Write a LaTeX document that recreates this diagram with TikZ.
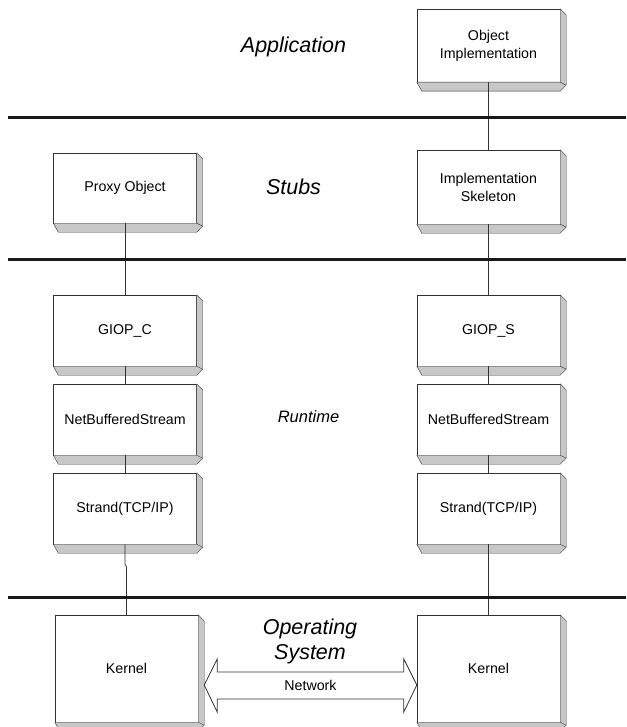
\documentclass[tikz,border=0pt]{standalone}
\usepackage{fontspec}
\setmainfont{Liberation Sans}
\usetikzlibrary{calc}
\begin{document}
\begin{tikzpicture}[x=1pt,y=-1pt,
     blk/.style={draw=black!80,fill=white,rectangle,minimum width=143pt,inner sep=0pt,align=center,font=\fontsize{14.2}{18}\selectfont},
     layer/.style={font=\fontsize{21.5}{25}\selectfont\itshape,anchor=base,align=center},
     sep/.style={line width=3pt,black!90},
     wire/.style={black!80,line width=0.8pt}
     ]
\useasboundingbox (0,0) rectangle (626,727);
\clip (0,0) rectangle (626,727);

%Depth of the raised boxes
\def \dx{6}
\def \dy{9}

%Centres of the two columns
\def \lx{125}
\def \rx{488.5}

%Layer names
\node[layer] (app) at (293.5,53) {Application};
\node[layer] (stubs) at (293.5,195) {Stubs};
\node[layer,font=\fontsize{16.5}{20}\selectfont\itshape] (rt) at (308.5,422) {Runtime};
\node[layer] (os) at (310,659) {Operating\\System};

%Server side
\node[blk,minimum height=73pt] (objimpl) at (\rx,45.5) {Object\\Implementation};
\node[blk,minimum height=74pt] (skel) at (\rx,187) {Implementation\\Skeleton};
\node[blk,minimum height=71pt] (giops) at (\rx,330.5) {GIOP\_S};
\node[blk,minimum height=71pt] (nbss) at (\rx,419.5) {NetBufferedStream};
\node[blk,minimum height=71pt] (strs) at (\rx,508.5) {Strand(TCP/IP)};
\node[blk,minimum height=107pt] (kers) at (\rx,668.5) {Kernel};

%Client side
\node[blk,minimum height=70pt] (proxy) at (\lx,188) {Proxy Object};
\node[blk,minimum height=71pt] (giopc) at (\lx,330.5) {GIOP\_C};
\node[blk,minimum height=71pt] (nbsc) at (\lx,419.5) {NetBufferedStream};
\node[blk,minimum height=71pt] (strc) at (\lx,508.5) {Strand(TCP/IP)};
\node[blk,minimum height=107pt] (kerc) at (\lx+1.5,668.5) {Kernel};

%Gray side faces of every box
\foreach \b in {objimpl,skel,giops,nbss,strs,kers,proxy,giopc,nbsc,strc,kerc}
{
\draw[black!80,fill=black!22,line join=round] (\b.north east) -- ++(\dx,\dx)
   -- ([shift={(\dx,\dy-\dx)}]\b.south east) -- ([shift={(0,\dy)}]\b.south east)
   -- ([shift={(\dx-1,\dy)}]\b.south west) -- (\b.south west) -- (\b.south east) -- cycle;
\draw[black!80] (\b.south east) -- ++(\dx,\dy-\dx);
}

%Connectors
\foreach \a/\b in {objimpl/skel,skel/giops,giops/nbss,nbss/strs,strs/kers,proxy/giopc,giopc/nbsc,nbsc/strc}
   \draw[wire] (\a.south) -- (\b.north);
\draw[wire] (strc.south) -- ++(0,20) -- ($(kerc.north)+(0,-48)$) -- (kerc.north);

%Layer separators
\foreach \y in {118,259,597}
   \draw[sep] (8,\y) -- (626,\y);

%Network arrow between the kernels
\coordinate (tl) at ($(kerc.east)+(\dx,16.5)$);
\coordinate (tr) at ($(kers.west)+(0,16.5)$);
\draw[wire,fill=white] (tl) -- ++(13,-26) -- ++(0,13) -- ($(tr)+(-13,-13)$) -- ++(0,-13)
   -- (tr) -- ++(-13,27) -- ++(0,-13) -- ($(tl)+(13,14)$) -- ++(0,13) -- cycle;
\node[font=\fontsize{14.2}{16}\selectfont] (net) at ($(tl)!0.5!(tr)$) {Network};
\end{tikzpicture}
\end{document}
